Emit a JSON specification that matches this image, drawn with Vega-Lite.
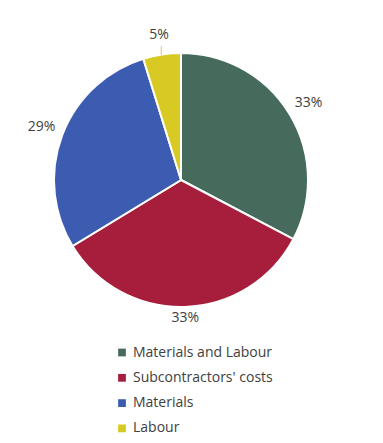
{
  "$schema": "https://vega.github.io/schema/vega-lite/v6.json",
  "width": 362,
  "height": 360,
  "padding": 0,
  "background": "white",
  "config": {"view": {"stroke": null}, "font": "Open Sans"},
  "data": {"values": [
    {"category": "Materials and Labour", "value": 32.7, "label": "33%", "order": 1},
    {"category": "Subcontractors' costs", "value": 33.6, "label": "33%", "order": 2},
    {"category": "Materials", "value": 28.9, "label": "29%", "order": 3},
    {"category": "Labour", "value": 4.8, "label": "5%", "order": 4}
  ]},
  "encoding": {
    "theta": {"field": "value", "type": "quantitative", "stack": true},
    "order": {"field": "order", "type": "quantitative"}
  },
  "layer": [
    {
      "mark": {"type": "arc", "outerRadius": 127, "stroke": "white", "strokeWidth": 2},
      "encoding": {
        "color": {
          "field": "category", "type": "nominal",
          "scale": {
            "domain": ["Materials and Labour", "Subcontractors' costs", "Materials", "Labour"],
            "range": ["#466B5C", "#A61E3B", "#3B5CB0", "#D8C923"]
          },
          "legend": {
            "title": null,
            "orient": "none",
            "legendX": 115,
            "legendY": 345.5,
            "symbolType": "square",
            "symbolSize": 60,
            "symbolStrokeWidth": 0,
            "labelFontSize": 14,
            "labelColor": "#404040",
            "labelFont": "Open Sans",
            "rowPadding": 11.3,
            "labelOffset": 4
          }
        }
      }
    },
    {
      "mark": {"type": "text", "radius": 149, "fontSize": 14, "color": "#404040", "font": "Open Sans"},
      "encoding": {"text": {"condition": {"test": "datum.category === 'Materials and Labour' || datum.category === 'Materials'", "field": "label"}, "value": ""}}
    },
    {
      "mark": {"type": "text", "radius": 138, "fontSize": 14, "color": "#404040", "font": "Open Sans"},
      "encoding": {"text": {"condition": {"test": "datum.category === \"Subcontractors' costs\"", "field": "label"}, "value": ""}}
    },
    {
      "mark": {"type": "text", "radius": 147, "fontSize": 14, "color": "#404040", "font": "Open Sans"},
      "encoding": {"text": {"condition": {"test": "datum.category === 'Labour'", "field": "label"}, "value": ""}}
    },
    {
      "mark": {"type": "text", "radius": 131, "fontSize": 9, "color": "#A0A0A0", "baseline": "middle"},
      "encoding": {"text": {"condition": {"test": "datum.category === 'Labour'", "value": "|"}, "value": ""}}
    }
  ]
}
